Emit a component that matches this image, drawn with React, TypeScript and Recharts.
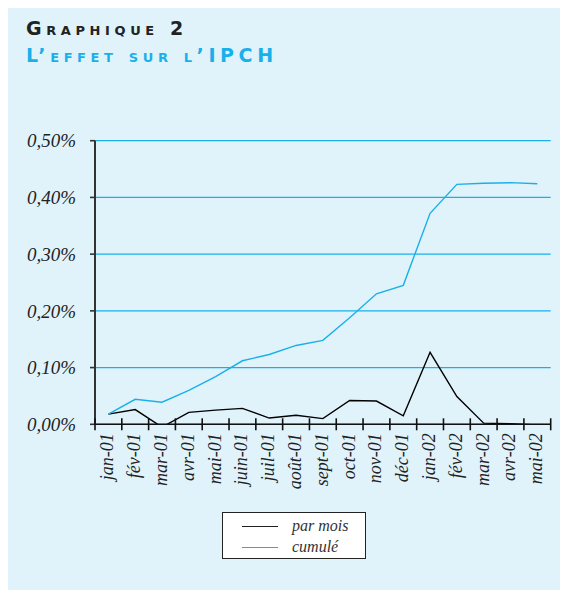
import React from "react";
import { LineChart, Line, XAxis, YAxis, CartesianGrid } from "recharts";

const months = [
  "jan-01", "fév-01", "mar-01", "avr-01", "mai-01", "juin-01", "juil-01", "août-01",
  "sept-01", "oct-01", "nov-01", "déc-01", "jan-02", "fév-02", "mar-02", "avr-02", "mai-02",
];
const parMois = [0.018, 0.026, -0.005, 0.021, 0.025, 0.028, 0.011, 0.016, 0.01, 0.042, 0.041, 0.015, 0.127, 0.049, 0.002, 0.001, -0.001];
const cumule = [0.018, 0.044, 0.039, 0.06, 0.084, 0.112, 0.123, 0.139, 0.148, 0.188, 0.23, 0.245, 0.372, 0.423, 0.425, 0.426, 0.424];
const yTicks = [0, 0.1, 0.2, 0.3, 0.4, 0.5];
const seriesNames = ["par mois", "cumulé"];

const CYAN = "#19b0ea";
const SERIF = '"Liberation Serif", "DejaVu Serif", serif';

const data = months.map((m, i) => ({ x: i + 0.5, month: m, parMois: parMois[i], cumule: cumule[i] }));
const xTicks: number[] = [];
for (let i = 0; i <= months.length; i++) {
  xTicks.push(i);
  if (i < months.length) xTicks.push(i + 0.5);
}

const XTick = (props: any) => {
  const { x, y, payload } = props;
  const v = payload.value as number;
  if (Number.isInteger(v)) {
    return <line x1={x} x2={x} y1={y - 6} y2={y + 6} stroke="#111" strokeWidth={1.6} />;
  }
  const i = Math.floor(v);
  return (
    <text
      transform={`translate(${x + 5},${y + 9}) rotate(-90)`}
      textAnchor="end"
      fontFamily={SERIF}
      fontStyle="italic"
      fontSize={18}
      fill="#222"
    >
      {months[i]}
    </text>
  );
};

const fmt = (v: number) => v.toFixed(2).replace(".", ",") + "%";

export default function App() {
  return (
    <div style={{ position: "relative", margin: -8, width: 568, height: 598, background: "#fff", overflow: "hidden" }}>
      <div style={{ position: "absolute", left: 7, top: 6, width: 560, height: 592, background: "#e0f3fb" }} />
      <div
        style={{
          position: "absolute",
          left: 26,
          top: 15,
          fontFamily: '"DejaVu Sans", sans-serif',
          fontWeight: "bold",
          fontVariant: "small-caps",
          fontSize: 19,
          letterSpacing: 4.6,
          lineHeight: "27px",
          whiteSpace: "nowrap",
        }}
      >
        <div style={{ color: "#222" }}>Graphique 2</div>
        <div style={{ color: CYAN }}>L’effet sur l’IPCH</div>
      </div>
      <div style={{ position: "absolute", left: 0, top: 0 }}>
        <LineChart
          width={568}
          height={598}
          data={data}
          margin={{ top: 140.7, right: 17.3, left: 0, bottom: 113.7 }}
        >
          <CartesianGrid horizontal vertical={false} stroke={CYAN} strokeWidth={1.3} />
          <XAxis
            dataKey="x"
            type="number"
            domain={[0, months.length]}
            ticks={xTicks}
            interval={0}
            tick={<XTick />}
            tickLine={false}
            tickSize={0}
            tickMargin={0}
            height={60}
            axisLine={{ stroke: "#111", strokeWidth: 1.6 }}
          />
          <YAxis
            type="number"
            domain={[0, 0.5]}
            ticks={yTicks}
            allowDataOverflow
            width={95}
            tickFormatter={fmt}
            tickSize={5}
            tickMargin={14}
            tick={{ fontFamily: SERIF, fontStyle: "italic", fontSize: 19, fill: "#222" }}
            tickLine={{ stroke: "#333", strokeWidth: 1.6 }}
            axisLine={{ stroke: "#333", strokeWidth: 2 }}
          />
          <Line type="linear" dataKey="parMois" stroke="#000" strokeWidth={1.4} dot={false} isAnimationActive={false} />
          <Line type="linear" dataKey="cumule" stroke={CYAN} strokeWidth={1.4} dot={false} isAnimationActive={false} />
        </LineChart>
      </div>
      <div
        style={{
          position: "absolute",
          left: 222,
          top: 512,
          width: 144,
          height: 47,
          background: "#fff",
          border: "1px solid #222",
          boxSizing: "border-box",
        }}
      >
        {seriesNames.map((n, i) => (
          <div key={n} style={{ position: "absolute", left: 19, top: 3 + i * 21, height: 20, display: "flex", alignItems: "center" }}>
            <div style={{ width: 36, height: 0, borderTop: `1.5px solid ${i === 0 ? "#222" : CYAN}` }} />
            <span style={{ marginLeft: 14, fontFamily: SERIF, fontStyle: "italic", fontSize: 16, color: "#333" }}>{n}</span>
          </div>
        ))}
      </div>
    </div>
  );
}
